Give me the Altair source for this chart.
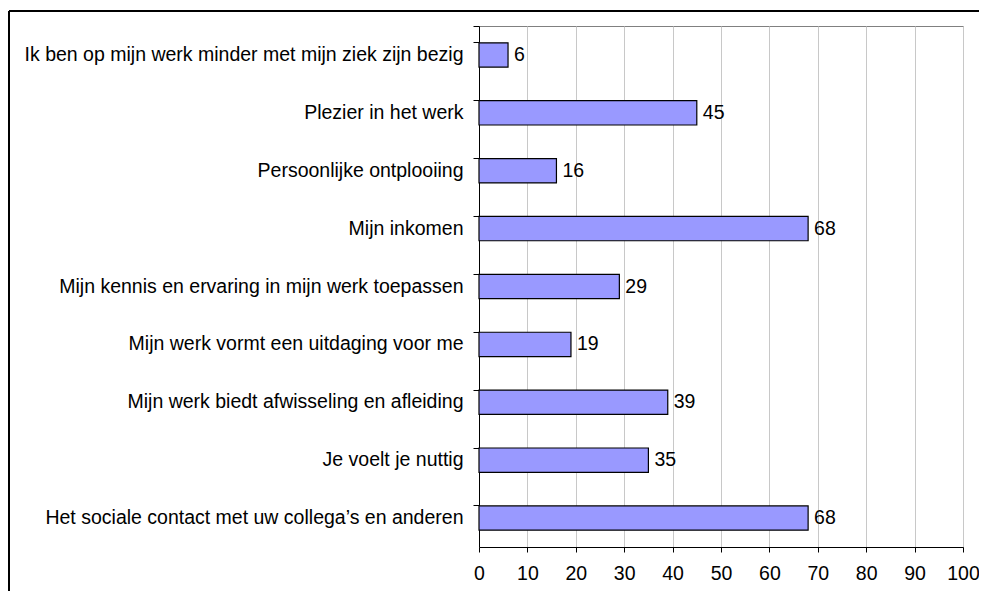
import altair as alt
import pandas as pd

categories = [
    "Ik ben op mijn werk minder met mijn ziek zijn bezig\u00a0",
    "Plezier in het werk",
    "Persoonlijke ontplooiing",
    "Mijn inkomen",
    "Mijn kennis en ervaring in mijn werk toepassen\u00a0",
    "Mijn werk vormt een uitdaging voor me",
    "Mijn werk biedt afwisseling en afleiding",
    "Je voelt je nuttig",
    "Het sociale contact met uw collega\u2019s en anderen\u00a0",
]
values = [6, 45, 16, 68, 29, 19, 39, 35, 68]
x_ticks = [0, 10, 20, 30, 40, 50, 60, 70, 80, 90, 100]

df = pd.DataFrame({"cat": categories, "val": values})
FONT = "Liberation Sans"
FS = 19.5

y_enc = alt.Y(
    "cat:N",
    sort=None,
    scale=alt.Scale(paddingInner=0.58, paddingOuter=0.29),
    axis=alt.Axis(
        title=None,
        bandPosition=0,
        tickExtra=True,
        tickSize=6,
        tickColor="black",
        domainColor="black",
        labelPadding=10,
        labelFontSize=FS,
        labelFont=FONT,
        labelColor="black",
        labelLimit=700,
        grid=False,
    ),
)
x_enc = alt.X(
    "val:Q",
    scale=alt.Scale(domain=[0, 100], nice=False),
    axis=alt.Axis(
        title=None,
        values=x_ticks,
        tickSize=5,
        tickColor="black",
        domainColor="black",
        labelPadding=12,
        labelFontSize=FS,
        labelFont=FONT,
        labelColor="black",
        grid=True,
        gridColor="#c8c8c8",
        labelFlush=False,
    ),
)

base = alt.Chart(df)
bars = base.mark_bar(color="#9999ff", stroke="black", strokeWidth=1.2).encode(x=x_enc, y=y_enc)
labels = base.mark_text(align="left", baseline="middle", dx=6, fontSize=FS, font=FONT, color="black").encode(
    x="val:Q", y=alt.Y("cat:N", sort=None), text="val:Q"
)

frame_df = pd.DataFrame({"a": [0]})
frame_top = alt.Chart(frame_df).mark_rule(color="black", strokeWidth=2).encode(
    x=alt.value(-470), x2=alt.value(500), y=alt.value(-15)
)
frame_left = alt.Chart(frame_df).mark_rule(color="black", strokeWidth=2).encode(
    x=alt.value(-470), y=alt.value(-15), y2=alt.value(565)
)

chart = alt.layer(bars, labels, frame_top, frame_left).properties(
    width=484,
    height=521,
    autosize=alt.AutoSizeParams(type="none"),
    padding={"left": 471, "top": 18, "right": 16, "bottom": 44},
).configure_view(stroke="#808080", strokeWidth=1)

chart.save("out.html", embed_options={"renderer": "svg", "actions": False})
